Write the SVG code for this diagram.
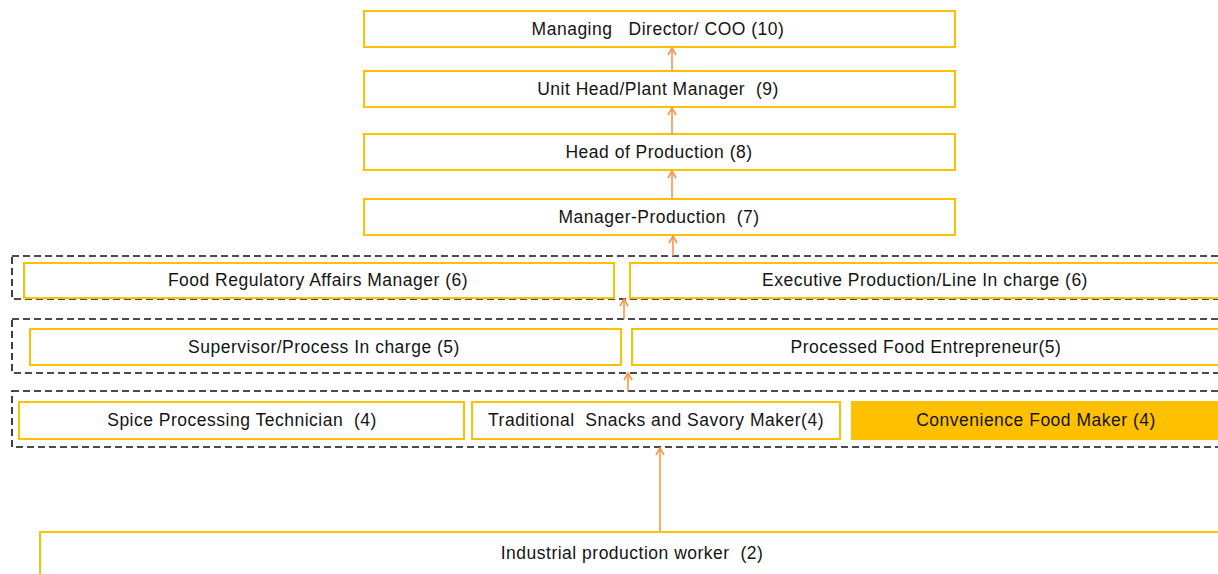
<svg xmlns="http://www.w3.org/2000/svg" width="1218" height="574" viewBox="0 0 1218 574">
  <style>
    .box { fill: #ffffff; stroke: #FFC000; stroke-width: 2; }
    .box-hl { fill: #FFC000; stroke: #FFC000; stroke-width: 2; }
    .band { fill: none; stroke: #111111; stroke-width: 1.6; stroke-dasharray: 7 4; }
    .lbl { font-family: "Liberation Sans", Arial, sans-serif; font-size: 17.5px; letter-spacing: 0.5px; fill: #141414; text-anchor: middle; dominant-baseline: central; white-space: pre; }
    .link { stroke: #F79646; stroke-width: 1.6; fill: none; marker-end: url(#up); }
  </style>
  <defs>
    <marker id="up" viewBox="0 0 10 10" refX="9" refY="5" markerWidth="10" markerHeight="10" markerUnits="userSpaceOnUse" orient="auto">
      <polyline points="2,1 9,5 2,9" fill="none" stroke="#F79646" stroke-width="1.6"/>
    </marker>
  </defs>

  <rect width="1218" height="574" fill="#ffffff"/>

  <!-- dashed level bands -->
  <g id="bands">
    <rect class="band" x="12" y="256" width="1215" height="43"/>
    <rect class="band" x="12" y="319" width="1215" height="54"/>
    <rect class="band" x="12" y="391" width="1215" height="56"/>
  </g>

  <g id="n10">
    <rect class="box" x="364" y="11" width="591" height="36"/>
    <text class="lbl" x="658" y="29">Managing   Director/ COO (10)</text>
  </g>
  <g id="n9">
    <rect class="box" x="364" y="71" width="591" height="36"/>
    <text class="lbl" x="658" y="89">Unit Head/Plant Manager  (9)</text>
  </g>
  <g id="n8">
    <rect class="box" x="364" y="134" width="591" height="36"/>
    <text class="lbl" x="659" y="152">Head of Production (8)</text>
  </g>
  <g id="n7">
    <rect class="box" x="364" y="199" width="591" height="36"/>
    <text class="lbl" x="659" y="217">Manager-Production  (7)</text>
  </g>

  <g id="n6a">
    <rect class="box" x="24" y="263" width="590" height="35"/>
    <text class="lbl" x="318" y="280">Food Regulatory Affairs Manager (6)</text>
  </g>
  <g id="n6b">
    <rect class="box" x="630" y="263" width="600" height="35"/>
    <text class="lbl" x="925" y="280">Executive Production/Line In charge (6)</text>
  </g>

  <g id="n5a">
    <rect class="box" x="30" y="329" width="591" height="36"/>
    <text class="lbl" x="324" y="347">Supervisor/Process In charge (5)</text>
  </g>
  <g id="n5b">
    <rect class="box" x="632" y="329" width="598" height="36"/>
    <text class="lbl" x="926" y="347">Processed Food Entrepreneur(5)</text>
  </g>

  <g id="n4a">
    <rect class="box" x="19" y="402" width="445" height="37"/>
    <text class="lbl" x="242" y="420">Spice Processing Technician  (4)</text>
  </g>
  <g id="n4b">
    <rect class="box" x="472" y="402" width="368" height="37"/>
    <text class="lbl" x="656" y="420">Traditional  Snacks and Savory Maker(4)</text>
  </g>
  <g id="n4c">
    <rect class="box-hl" x="852" y="402" width="378" height="37"/>
    <text class="lbl" x="1036" y="420">Convenience Food Maker (4)</text>
  </g>

  <g id="n2">
    <rect class="box" x="40" y="532" width="1190" height="60"/>
    <text class="lbl" x="632" y="553">Industrial production worker  (2)</text>
  </g>

  <!-- upward progression links -->
  <g id="links">
    <line class="link" x1="672" y1="71" x2="672" y2="48"/>
    <line class="link" x1="672" y1="134" x2="672" y2="108"/>
    <line class="link" x1="672" y1="199" x2="672" y2="171"/>
    <line class="link" x1="673" y1="256" x2="673" y2="236"/>
    <line class="link" x1="624" y1="319" x2="624" y2="299"/>
    <line class="link" x1="628" y1="391" x2="628" y2="373"/>
    <line class="link" x1="660" y1="531" x2="660" y2="448"/>
  </g>
</svg>
